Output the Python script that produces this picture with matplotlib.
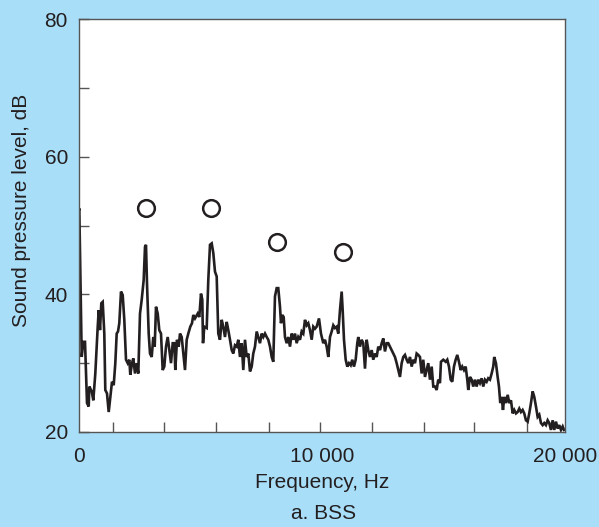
import matplotlib

matplotlib.use("Agg")
import matplotlib.pyplot as plt
from matplotlib.ticker import FixedLocator

plt.rcParams["font.family"] = ["Liberation Sans", "DejaVu Sans"]

# Spectrum trace (Hz, dB)
freq_hz = [
    0, 12, 111, 177, 247, 329, 399, 424, 523, 588, 671, 770, 811, 864, 918, 975,
    1041, 1082, 1152, 1222, 1288, 1358, 1428, 1494, 1551, 1605, 1658, 1728, 1798,
    1864, 1934, 2004, 2070, 2111, 2181, 2234, 2304, 2374, 2440, 2510, 2580, 2662,
    2716, 2757, 2798, 2868, 2922, 2992, 3057, 3115, 3169, 3239, 3304, 3374, 3444,
    3510, 3580, 3650, 3716, 3786, 3856, 3922, 3963, 4033, 4103, 4156, 4226, 4292,
    4362, 4432, 4498, 4580, 4650, 4704, 4773, 4885, 4950, 5020, 5074, 5103, 5156,
    5255, 5321, 5391, 5461, 5527, 5596, 5666, 5732, 5802, 5872, 5938, 6008, 6078,
    6144, 6214, 6284, 6349, 6419, 6489, 6555, 6625, 6695, 6761, 6831, 6901, 6967,
    7037, 7107, 7172, 7242, 7312, 7378, 7448, 7518, 7584, 7654, 7724, 7790, 7860,
    7930, 7995, 8065, 8135, 8201, 8271, 8312, 8366, 8423, 8477, 8547, 8613, 8683,
    8753, 8818, 8888, 8958, 9024, 9094, 9164, 9230, 9300, 9370, 9436, 9506, 9576,
    9641, 9711, 9781, 9876, 9958, 10053, 10123, 10193, 10259, 10329, 10399, 10465,
    10534, 10604, 10670, 10740, 10810, 10851, 10905, 10975, 11041, 11111, 11181,
    11246, 11316, 11386, 11452, 11493, 11563, 11633, 11699, 11769, 11839, 11905,
    11975, 12045, 12110, 12180, 12250, 12316, 12386, 12456, 12522, 12592, 12662,
    12728, 12798, 12867, 12933, 13003, 13073, 13139, 13209, 13279, 13345, 13415,
    13485, 13551, 13621, 13691, 13757, 13826, 13896, 13962, 14032, 14102, 14168,
    14238, 14308, 14374, 14444, 14514, 14580, 14649, 14719, 14785, 14855, 14896,
    14991, 15090, 15156, 15226, 15296, 15361, 15431, 15501, 15567, 15637, 15707,
    15773, 15843, 15913, 15979, 16020, 16090, 16160, 16225, 16295, 16365, 16431,
    16501, 16571, 16637, 16707, 16777, 16842, 16912, 16982, 17048, 17089, 17159,
    17229, 17283, 17337, 17395, 17448, 17502, 17572, 17642, 17707, 17777, 17847,
    17913, 17983, 18053, 18119, 18188, 18258, 18324, 18394, 18464, 18530, 18600,
    18670, 18736, 18806, 18876, 18942, 19012, 19081, 19147, 19217, 19287, 19353,
    19423, 19493, 19559, 19629, 19699, 19765, 19835, 19905, 19959,
]
spl_db = [
    52.3, 52.5, 30.9, 33.1, 33.1, 24.2, 23.7, 26.6, 25.9, 24.6, 28.5, 35.3, 37.7,
    34.8, 38.7, 38.9, 34.3, 26.1, 25.6, 22.9, 25.1, 27.3, 26.8, 30.0, 34.3, 34.6,
    35.8, 40.4, 39.9, 36.3, 30.5, 30.0, 30.5, 28.3, 30.0, 30.7, 28.5, 30.0, 28.5,
    37.2, 39.2, 42.1, 46.9, 47.2, 41.6, 34.3, 31.4, 30.9, 33.8, 32.4, 38.2, 37.2,
    34.8, 34.3, 29.0, 29.5, 32.4, 33.8, 31.9, 30.0, 32.9, 32.9, 29.0, 33.4, 32.4,
    34.3, 33.8, 31.4, 29.0, 33.4, 34.3, 35.3, 35.8, 37.0, 36.5, 37.2, 36.7, 40.1,
    39.2, 32.9, 35.3, 35.1, 42.1, 47.2, 47.4, 46.0, 43.3, 42.6, 34.3, 33.4, 36.3,
    35.3, 33.8, 36.0, 34.8, 33.4, 31.9, 31.4, 32.6, 32.4, 33.4, 30.9, 32.9, 29.0,
    33.4, 30.9, 31.4, 28.8, 29.5, 31.4, 32.4, 34.6, 33.8, 32.9, 34.3, 33.8, 34.3,
    33.8, 33.4, 32.4, 30.9, 30.2, 39.7, 40.9, 40.9, 38.2, 35.8, 37.0, 36.7, 33.8,
    32.9, 33.8, 32.4, 34.3, 33.4, 34.3, 32.9, 33.8, 33.4, 34.6, 34.3, 36.3, 35.5,
    35.8, 34.8, 33.4, 35.3, 35.0, 35.3, 36.5, 34.3, 32.9, 33.4, 32.4, 30.9, 33.8,
    34.6, 35.5, 35.1, 35.3, 34.3, 37.7, 40.4, 37.7, 33.4, 30.5, 29.5, 30.0, 29.7,
    30.5, 29.5, 30.5, 32.9, 33.8, 32.4, 33.4, 32.9, 29.2, 33.4, 31.9, 30.9, 31.9,
    30.5, 31.4, 30.9, 32.4, 31.9, 32.9, 33.6, 31.7, 32.9, 32.9, 32.4, 31.9, 31.4,
    30.9, 30.0, 29.0, 28.0, 30.0, 30.9, 31.2, 30.5, 30.0, 30.9, 29.5, 30.5, 30.0,
    31.4, 31.2, 30.9, 28.5, 30.5, 28.0, 29.0, 30.0, 27.6, 29.5, 26.6, 26.6, 26.1,
    27.6, 27.1, 30.2, 30.5, 30.2, 30.5, 29.5, 27.6, 27.3, 29.5, 30.5, 31.2, 30.2,
    29.0, 29.5, 29.0, 29.5, 27.6, 26.1, 28.0, 27.6, 26.6, 27.6, 26.6, 27.6, 27.1,
    27.8, 26.6, 27.6, 27.3, 27.8, 27.6, 28.5, 29.5, 30.9, 30.0, 28.0, 26.6, 24.2,
    25.1, 23.2, 25.1, 24.2, 25.4, 24.2, 24.6, 22.7, 23.2, 22.7, 22.9, 23.4, 22.9,
    23.2, 22.7, 21.7, 21.5, 22.7, 24.2, 25.9, 25.1, 23.7, 22.2, 22.5, 21.3, 21.0,
    21.3, 21.0, 21.7, 21.3, 20.3, 21.7, 20.3, 21.5, 20.5, 21.0, 20.3, 20.8, 20.3,
]

# Marked tonal peaks (open circles)
circle_hz = [2757, 5432, 8148, 10864]
circle_db = [52.5, 52.5, 47.6, 46.2]

x_ticks = [0, 10000, 20000]
x_tick_labels = ["0", "10 000", "20 000"]
y_ticks = [20, 40, 60, 80]

bg = "#a9def9"
ink = "#231f20"

fig = plt.figure(figsize=(5.99, 5.27), dpi=100, facecolor=bg)
ax = fig.add_axes([0.1319, 0.1803, 0.8113, 0.7836])
ax.set_facecolor("white")

ax.plot(freq_hz, spl_db, color=ink, linewidth=1.9, solid_joinstyle="miter")
ax.plot(circle_hz, circle_db, linestyle="none", marker="o", markersize=12,
        markerfacecolor="none", markeredgecolor=ink, markeredgewidth=1.8)

ax.set_xlim(0, 20000)
ax.set_ylim(20, 80)

ax.set_xticks(x_ticks)
ax.set_xticklabels(x_tick_labels)
ax.xaxis.set_minor_locator(FixedLocator([1400, 3500, 5650, 7800, 9900, 12050, 14200, 16250, 18450]))
ax.set_yticks(y_ticks)
ax.yaxis.set_minor_locator(FixedLocator([30, 50, 70]))

ax.tick_params(axis="x", which="major", length=0, pad=11, labelsize=15, labelcolor=ink)
ax.tick_params(axis="x", which="minor", direction="in", length=7, width=1, color="#555555")
ax.tick_params(axis="y", which="both", direction="in", length=7, width=1, color="#555555",
               pad=8, labelsize=15, labelcolor=ink)

for s in ax.spines.values():
    s.set_color("#555555")
    s.set_linewidth(1)

ax.set_xlabel("Frequency, Hz", fontsize=15, color=ink, labelpad=5)
ax.set_ylabel("Sound pressure level, dB", fontsize=15, color=ink)
ax.yaxis.set_label_coords(-0.098, 0.5375)

fig.text(0.541, 0.008, "a. BSS", ha="center", va="bottom", fontsize=15, color=ink)

fig.savefig("out.png", dpi=100, facecolor=bg)
